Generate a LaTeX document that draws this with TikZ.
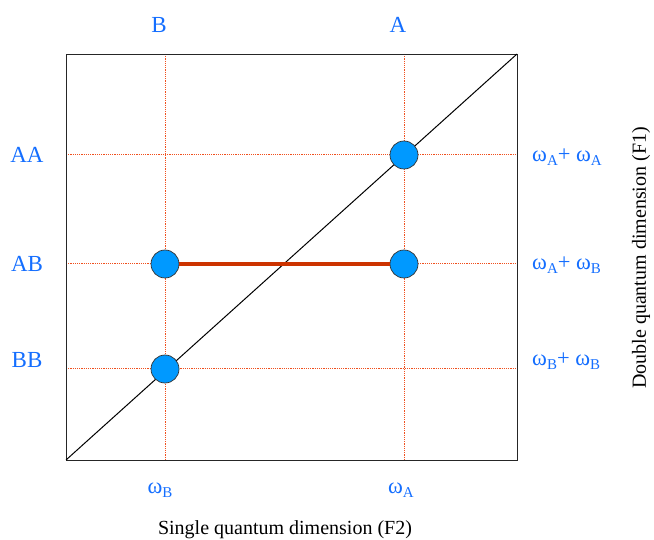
\documentclass[tikz,border=0pt]{standalone}
\usepackage{fontspec}
\setmainfont{Liberation Serif}
\definecolor{lblblue}{RGB}{20,110,255}
\definecolor{dotblue}{RGB}{0,153,255}
\definecolor{gridred}{RGB}{240,80,30}
\definecolor{barred}{RGB}{204,51,0}
\newcommand{\om}[1]{ω\raisebox{-0.4ex}{\fontsize{15}{15}\selectfont #1}}
\begin{document}
\begin{tikzpicture}[x=1pt,y=-1pt,
  lbl/.style={text=lblblue,font=\fontsize{23}{23}\selectfont,inner sep=0pt},
  rlbl/.style={text=lblblue,font=\fontsize{22.5}{22.5}\selectfont,inner sep=0pt,anchor=west},
  axlbl/.style={text=black,font=\fontsize{20}{20}\selectfont,inner sep=0pt},
  grid/.style={gridred,dash pattern=on 1.2pt off 1pt,line width=1pt},
  spot/.style={circle,fill=dotblue,draw=black!80,line width=0.7pt,minimum size=28pt,inner sep=0pt},
  bar/.style={barred,line width=3.2pt}]
\useasboundingbox (0,0) rectangle (654,540);
% frame corners
\coordinate (bl) at (66,460);
\coordinate (tr) at (517,54);
\coordinate (tB) at (165,54); \coordinate (bB) at (165,460);
\coordinate (tA) at (404,54); \coordinate (bA) at (404,460);
\coordinate (lAA) at (66,155); \coordinate (rAA) at (517,155);
\coordinate (lAB) at (66,264); \coordinate (rAB) at (517,264);
\coordinate (lBB) at (66,369); \coordinate (rBB) at (517,369);
% grid lines
\draw[grid] (tB) -- (bB);
\draw[grid] (tA) -- (bA);
\draw[grid] (lAA) -- (rAA);
\draw[grid] (lAB) -- (rAB);
\draw[grid] (lBB) -- (rBB);
% frame
\draw[black!85,line width=0.9pt] (bl) rectangle (tr);
\draw[black,line width=1pt] (bl) -- (tr);
% spots
\node[spot] (sAA) at (404,155) {};
\node[spot] (sAB1) at (165,264) {};
\node[spot] (sAB2) at (404,264) {};
\node[spot] (sBB) at (165,369) {};
\draw[bar] (sAB1) -- (sAB2);
% labels
\node[lbl] (B) at (159,25) {B};
\node[lbl] (A) at (398,25) {A};
\node[lbl] (AA) at (27,155) {AA};
\node[lbl] (AB) at (27,264) {AB};
\node[lbl] (BB) at (27,360) {BB};
\node[rlbl] (rAAl) at (532,157) {\om{A}+ \om{A}};
\node[rlbl] (rABl) at (532,265) {\om{A}+ \om{B}};
\node[rlbl] (rBBl) at (532,361) {\om{B}+ \om{B}};
\node[rlbl,anchor=center] (wB) at (160,490) {\om{B}};
\node[rlbl,anchor=center] (wA) at (401,490) {\om{A}};
\node[axlbl] (f2) at (285,530) {Single quantum dimension (F2)};
\node[axlbl,rotate=90] (f1) at (641,258) {Double quantum dimension (F1)};
\end{tikzpicture}
\end{document}
